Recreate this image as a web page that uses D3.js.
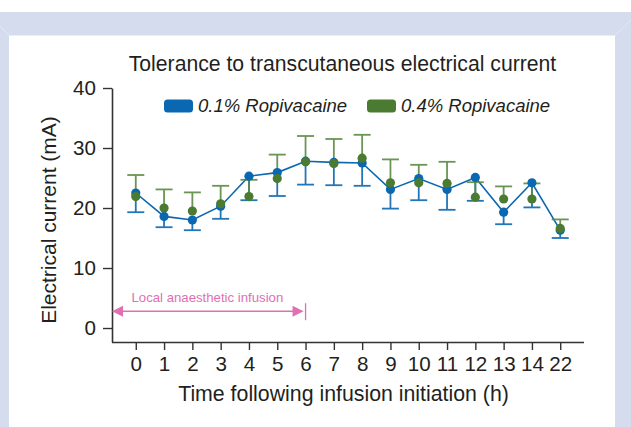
<!DOCTYPE html>
<html>
<head>
<meta charset="utf-8">
<script src="https://cdn.jsdelivr.net/npm/d3@7"></script>
<style>
  html, body { margin: 0; padding: 0; background: #ffffff; }
  svg { display: block; }
  text { font-family: "Liberation Sans", Arial, Helvetica, sans-serif; fill: #231f20; }
</style>
</head>
<body>
<svg id="chart" width="631" height="427"></svg>
<script>
// ---- Data ----
const timeLabels = ["0","1","2","3","4","5","6","7","8","9","10","11","12","13","14","22"];
const seriesNames = ["0.1% Ropivacaine", "0.4% Ropivacaine"];
const blueMean   = [22.5, 18.6, 18.0, 20.3, 25.3, 25.9, 27.8, 27.6, 27.5, 23.1, 24.9, 23.1, 25.1, 19.3, 24.2, 16.3];
const blueLower  = [19.3, 16.8, 16.3, 18.2, 21.3, 22.0, 23.9, 23.8, 23.7, 19.9, 21.3, 19.7, 21.2, 17.3, 20.1, 15.0];
const greenMean  = [21.9, 20.0, 19.5, 20.7, 21.9, 24.9, 27.7, 27.4, 28.3, 24.2, 24.2, 24.1, 21.8, 21.5, 21.5, 16.6];
const greenUpper = [25.5, 23.1, 22.6, 23.7, 24.7, 28.9, 32.0, 31.5, 32.2, 28.1, 27.2, 27.7, 24.3, 23.6, 24.1, 18.1];
const yTicks = [0, 10, 20, 30, 40];
const yDomain = [-2.33, 40];
const infusionEnd = "6";
const titleText = "Tolerance to transcutaneous electrical current";
const xTitle = "Time following infusion initiation (h)";
const yTitle = "Electrical current (mA)";
const annotationText = "Local anaesthetic infusion";

// ---- Styles ----
const BLUE = "#0a67b2";
const GREEN = "#4b7b30";
const GREEN_BAR = "#5a8a42";
const PINK = "#e070b2";
const AXIS = "#333333";
const FRAME = "#d4dcee";

const svg = d3.select("#chart");

// frame
svg.append("rect").attr("x", 0).attr("y", 12).attr("width", 631).attr("height", 415).attr("fill", FRAME);
svg.append("rect").attr("x", 9).attr("y", 35.5).attr("width", 606).attr("height", 392).attr("fill", "#ffffff");
svg.append("line").attr("x1", 0).attr("y1", 26).attr("x2", 9).attr("y2", 35.5).attr("stroke", "#e4e9f5").attr("stroke-width", 1);
svg.append("line").attr("x1", 631).attr("y1", 20).attr("x2", 615).attr("y2", 35.5).attr("stroke", "#e4e9f5").attr("stroke-width", 1);

// scales
const x = d3.scalePoint().domain(timeLabels).range([112, 584]).padding(0.84);
const y = d3.scaleLinear().domain(yDomain).range([342, 88]);

// axes
const yAxis = d3.axisLeft(y).tickValues(yTicks).tickSize(9).tickSizeOuter(0).tickPadding(7);
const gy = svg.append("g").attr("transform", "translate(112,0)").call(yAxis);
const xAxis = d3.axisBottom(x).tickSize(8).tickSizeOuter(0).tickPadding(6);
const gx = svg.append("g").attr("transform", "translate(0,342)").call(xAxis);
gx.select(".domain").attr("d", "M112,0.5H584");
[gx, gy].forEach(g => {
  g.selectAll(".domain").attr("stroke", AXIS).attr("stroke-width", 1.6);
  g.selectAll(".tick line").attr("stroke", AXIS).attr("stroke-width", 1.4);
  g.selectAll(".tick text").attr("font-size", 20.6).attr("fill", "#231f20")
    .style("font-family", '"Liberation Sans", Arial, sans-serif');
});

// title
svg.append("text").attr("x", 342.5).attr("y", 71).attr("text-anchor", "middle")
  .attr("font-size", 21.2).text(titleText);
// axis titles
svg.append("text").attr("x", 343.5).attr("y", 401).attr("text-anchor", "middle")
  .attr("font-size", 21.3).text(xTitle);
svg.append("text").attr("transform", "translate(56,220) rotate(-90)").attr("text-anchor", "middle")
  .attr("font-size", 21).text(yTitle);

// legend
const legend = svg.append("g");
[[164, BLUE, seriesNames[0]], [367, GREEN, seriesNames[1]]].forEach(([lx, c, t]) => {
  legend.append("rect").attr("x", lx).attr("y", 99.5).attr("width", 29).attr("height", 13)
    .attr("rx", 3.5).attr("fill", c);
  legend.append("text").attr("x", lx + 34).attr("y", 112).attr("font-size", 18.5)
    .attr("font-style", "italic").text(t);
});

// annotation
const ay = y(2.8);
const ax0 = 112, ax1 = x(infusionEnd) - 2;
svg.append("line").attr("x1", ax0 + 8).attr("y1", ay).attr("x2", ax1 - 8).attr("y2", ay)
  .attr("stroke", PINK).attr("stroke-width", 1.5);
svg.append("path").attr("d", `M${ax0},${ay}L${ax0 + 11},${ay - 5.5}L${ax0 + 11},${ay + 5.5}Z`).attr("fill", PINK);
svg.append("path").attr("d", `M${ax1},${ay}L${ax1 - 11},${ay - 5.5}L${ax1 - 11},${ay + 5.5}Z`).attr("fill", PINK);
svg.append("line").attr("x1", x(infusionEnd)).attr("x2", x(infusionEnd))
  .attr("y1", ay - 8).attr("y2", ay + 9).attr("stroke", PINK).attr("stroke-width", 1.3);
svg.append("text").attr("x", 131.5).attr("y", y(4.4)).attr("font-size", 13.2)
  .style("fill", PINK).text(annotationText);

// data
const rows = timeLabels.map((t, i) => ({ t, bm: blueMean[i], bl: blueLower[i], gm: greenMean[i], gu: greenUpper[i] }));
const capW = 8.5;

svg.append("path").datum(rows)
  .attr("d", d3.line().x(d => x(d.t)).y(d => y(d.bm)))
  .attr("fill", "none").attr("stroke", BLUE).attr("stroke-width", 1.6);

const be = svg.append("g").attr("stroke", BLUE).attr("stroke-width", 1.8).attr("opacity", 0.9);
rows.forEach(d => {
  be.append("line").attr("x1", x(d.t)).attr("x2", x(d.t)).attr("y1", y(d.bm)).attr("y2", y(d.bl));
  be.append("line").attr("x1", x(d.t) - capW).attr("x2", x(d.t) + capW).attr("y1", y(d.bl)).attr("y2", y(d.bl));
});
const ge = svg.append("g").attr("stroke", GREEN_BAR).attr("stroke-width", 1.8).attr("opacity", 0.9);
rows.forEach(d => {
  ge.append("line").attr("x1", x(d.t)).attr("x2", x(d.t)).attr("y1", y(d.gm)).attr("y2", y(d.gu));
  ge.append("line").attr("x1", x(d.t) - capW).attr("x2", x(d.t) + capW).attr("y1", y(d.gu)).attr("y2", y(d.gu));
});

svg.append("g").selectAll("circle").data(rows).join("circle")
  .attr("cx", d => x(d.t)).attr("cy", d => y(d.bm)).attr("r", 4.6).attr("fill", BLUE);
svg.append("g").selectAll("circle").data(rows).join("circle")
  .attr("cx", d => x(d.t)).attr("cy", d => y(d.gm)).attr("r", 4.6).attr("fill", GREEN);
</script>
</body>
</html>
